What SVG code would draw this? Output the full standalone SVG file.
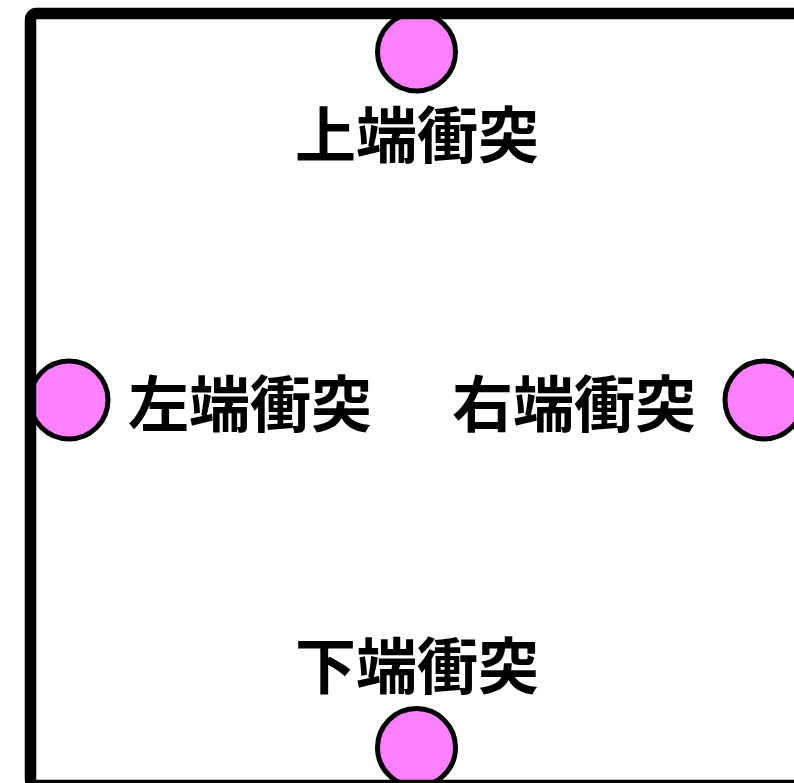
<svg xmlns="http://www.w3.org/2000/svg" width="794" height="783" viewBox="0 0 794 783">
  <style>
    .wall { fill: none; stroke: #000000; stroke-width: 11.5; }
    .ball { fill: #ff80ff; stroke: #000000; stroke-width: 5; }
    .lbl { font-family: "Noto Sans CJK JP", "Noto Sans CJK SC", sans-serif; font-weight: bold; font-size: 61px; fill: #000000; text-anchor: middle; dominant-baseline: central; }
  </style>
  <rect x="0" y="0" width="794" height="783" fill="#ffffff"/>
  <g id="top">
    <circle class="ball" cx="416.5" cy="52" r="39"/>
    <text class="lbl" x="417" y="131">上端衝突</text>
  </g>
  <g id="left">
    <circle class="ball" cx="69" cy="400" r="39"/>
    <text class="lbl" x="250" y="400">左端衝突</text>
  </g>
  <g id="right">
    <circle class="ball" cx="764" cy="400" r="39"/>
    <text class="lbl" x="574" y="400">右端衝突</text>
  </g>
  <g id="bottom">
    <circle class="ball" cx="416.5" cy="747.5" r="39"/>
    <text class="lbl" x="417" y="662">下端衝突</text>
  </g>
  <rect id="box" class="wall" x="30.5" y="13.5" width="771" height="772" rx="6"/>
  <g id="connectors"></g>
</svg>
